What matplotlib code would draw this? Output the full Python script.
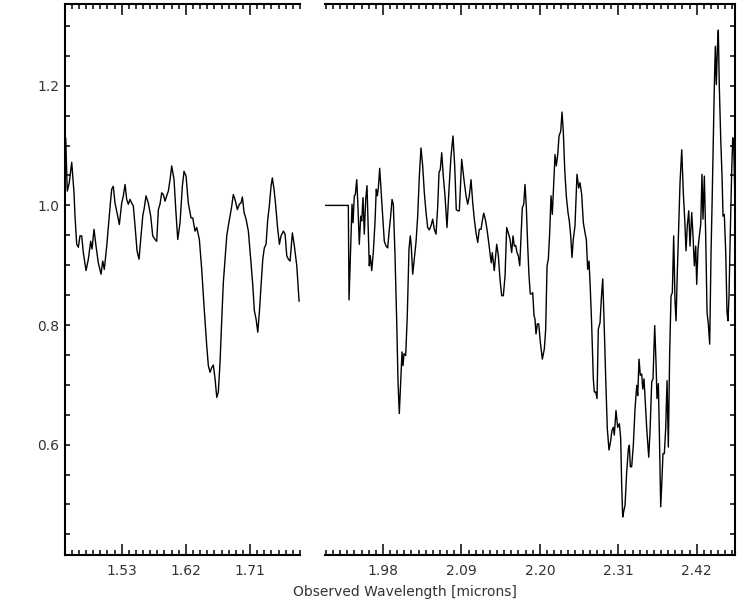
import matplotlib
matplotlib.use("Agg")
import matplotlib.pyplot as plt
from matplotlib.ticker import FixedLocator, MultipleLocator, FormatStrFormatter

# H band part of the spectrum (left panel)
wl_h = [1.4515, 1.4537, 1.4565, 1.4599, 1.4631, 1.4645, 1.4669, 1.4692, 1.4715, 1.4739,
        1.4762, 1.4800, 1.4832, 1.4865, 1.4884, 1.4912, 1.4940, 1.4972, 1.5010, 1.5034,
        1.5056, 1.5090, 1.5122, 1.5146, 1.5160, 1.5182, 1.5206, 1.5239, 1.5267, 1.5300,
        1.5323, 1.5347, 1.5370, 1.5393, 1.5417, 1.5440, 1.5463, 1.5491, 1.5515, 1.5543,
        1.5571, 1.5595, 1.5617, 1.5641, 1.5673, 1.5707, 1.5735, 1.5767, 1.5791, 1.5814,
        1.5837, 1.5861, 1.5884, 1.5908, 1.5931, 1.5954, 1.5978, 1.6001, 1.6034, 1.6058,
        1.6086, 1.6118, 1.6150, 1.6174, 1.6202, 1.6234, 1.6272, 1.6296, 1.6328, 1.6352,
        1.6389, 1.6422, 1.6454, 1.6492, 1.6515, 1.6539, 1.6562, 1.6585, 1.6609, 1.6633,
        1.6655, 1.6679, 1.6703, 1.6725, 1.6749, 1.6773, 1.6795, 1.6819, 1.6843, 1.6865,
        1.6889, 1.6922, 1.6950, 1.6973, 1.6992, 1.7016, 1.7044, 1.7076, 1.7109, 1.7138,
        1.7160, 1.7184, 1.7208, 1.7230, 1.7254, 1.7278, 1.7300, 1.7324, 1.7348, 1.7370,
        1.7394, 1.7412, 1.7436, 1.7460, 1.7483, 1.7511, 1.7534, 1.7567, 1.7591, 1.7614,
        1.7637, 1.7661, 1.7693, 1.7721, 1.7755, 1.7787]
flux_h = [1.112, 1.024, 1.038, 1.072, 1.022, 0.982, 0.935, 0.930, 0.949, 0.949,
          0.921, 0.891, 0.910, 0.940, 0.927, 0.960, 0.932, 0.904, 0.885, 0.907,
          0.893, 0.932, 0.977, 1.010, 1.027, 1.032, 1.004, 0.985, 0.968, 1.004,
          1.016, 1.035, 1.010, 1.002, 1.010, 1.004, 0.999, 0.960, 0.924, 0.910,
          0.949, 0.982, 0.996, 1.016, 1.004, 0.982, 0.949, 0.943, 0.940, 0.993,
          1.002, 1.021, 1.018, 1.007, 1.016, 1.024, 1.043, 1.066, 1.043, 0.993,
          0.943, 0.971, 1.032, 1.057, 1.049, 1.004, 0.979, 0.979, 0.957, 0.963,
          0.943, 0.893, 0.832, 0.766, 0.732, 0.721, 0.729, 0.733, 0.710, 0.679,
          0.688, 0.738, 0.810, 0.871, 0.910, 0.949, 0.966, 0.982, 0.999, 1.018,
          1.010, 0.993, 1.002, 1.004, 1.014, 0.988, 0.977, 0.957, 0.910, 0.866,
          0.824, 0.810, 0.788, 0.821, 0.866, 0.910, 0.929, 0.935, 0.977, 0.999,
          1.032, 1.046, 1.027, 0.999, 0.966, 0.935, 0.949, 0.957, 0.952, 0.916,
          0.910, 0.907, 0.954, 0.932, 0.899, 0.840]

# K band part of the spectrum (right panel)
wl_k = [1.8990, 1.9314, 1.9324, 1.9347, 1.9366, 1.9380, 1.9398, 1.9412, 1.9432, 1.9450,
        1.9468, 1.9488, 1.9502, 1.9520, 1.9538, 1.9558, 1.9576, 1.9594, 1.9608, 1.9622,
        1.9642, 1.9664, 1.9688, 1.9706, 1.9721, 1.9735, 1.9754, 1.9772, 1.9796, 1.9819,
        1.9843, 1.9866, 1.9889, 1.9908, 1.9927, 1.9945, 1.9969, 1.9993, 2.0011, 2.0029,
        2.0049, 2.0067, 2.0081, 2.0095, 2.0119, 2.0141, 2.0165, 2.0183, 2.0197, 2.0217,
        2.0239, 2.0263, 2.0287, 2.0310, 2.0333, 2.0357, 2.0380, 2.0404, 2.0427, 2.0450,
        2.0474, 2.0497, 2.0520, 2.0544, 2.0568, 2.0586, 2.0604, 2.0624, 2.0646, 2.0670,
        2.0698, 2.0726, 2.0754, 2.0782, 2.0806, 2.0828, 2.0848, 2.0871, 2.0904, 2.0936,
        2.0965, 2.0988, 2.1011, 2.1035, 2.1059, 2.1081, 2.1105, 2.1129, 2.1151, 2.1175,
        2.1193, 2.1213, 2.1235, 2.1259, 2.1283, 2.1305, 2.1319, 2.1333, 2.1361, 2.1395,
        2.1418, 2.1441, 2.1465, 2.1488, 2.1512, 2.1535, 2.1558, 2.1582, 2.1605, 2.1624,
        2.1642, 2.1662, 2.1680, 2.1698, 2.1718, 2.1736, 2.1754, 2.1774, 2.1792, 2.1810,
        2.1830, 2.1848, 2.1866, 2.1886, 2.1900, 2.1918, 2.1932, 2.1946, 2.1965, 2.1984,
        2.2007, 2.2035, 2.2063, 2.2082, 2.2101, 2.2119, 2.2138, 2.2157, 2.2175, 2.2195,
        2.2213, 2.2231, 2.2251, 2.2269, 2.2293, 2.2311, 2.2329, 2.2349, 2.2371, 2.2395,
        2.2413, 2.2433, 2.2451, 2.2469, 2.2493, 2.2521, 2.2545, 2.2563, 2.2587, 2.2610,
        2.2634, 2.2652, 2.2671, 2.2690, 2.2708, 2.2727, 2.2750, 2.2764, 2.2784, 2.2802,
        2.2820, 2.2844, 2.2862, 2.2882, 2.2900, 2.2924, 2.2946, 2.2970, 2.2994, 2.3012,
        2.3030, 2.3044, 2.3068, 2.3092, 2.3115, 2.3134, 2.3148, 2.3162, 2.3176, 2.3195,
        2.3218, 2.3241, 2.3255, 2.3269, 2.3288, 2.3311, 2.3335, 2.3359, 2.3373, 2.3391,
        2.3409, 2.3429, 2.3443, 2.3461, 2.3479, 2.3499, 2.3527, 2.3545, 2.3569, 2.3587,
        2.3611, 2.3629, 2.3643, 2.3662, 2.3676, 2.3695, 2.3713, 2.3727, 2.3746, 2.3765,
        2.3784, 2.3802, 2.3821, 2.3840, 2.3858, 2.3877, 2.3896, 2.3910, 2.3928, 2.3948,
        2.3966, 2.3990, 2.4012, 2.4032, 2.4050, 2.4068, 2.4088, 2.4106, 2.4130, 2.4148,
        2.4167, 2.4186, 2.4200, 2.4218, 2.4237, 2.4256, 2.4274, 2.4288, 2.4307, 2.4326,
        2.4345, 2.4363, 2.4382, 2.4401, 2.4415, 2.4433, 2.4447, 2.4461, 2.4475, 2.4489,
        2.4503, 2.4517, 2.4537, 2.4555, 2.4569, 2.4587, 2.4607, 2.4625, 2.4639, 2.4653,
        2.4671, 2.4691, 2.4705, 2.4719, 2.4733, 2.4747]
flux_k = [1.000, 1.000, 0.842, 0.927, 1.002, 0.971, 1.016, 1.018, 1.043, 0.996,
          0.935, 0.982, 0.974, 1.013, 0.952, 1.010, 1.033, 0.960, 0.899, 0.916,
          0.891, 0.921, 0.971, 1.027, 1.016, 1.029, 1.062, 1.027, 0.982, 0.940,
          0.932, 0.929, 0.960, 0.982, 1.010, 1.002, 0.916, 0.804, 0.705, 0.652,
          0.705, 0.755, 0.732, 0.752, 0.749, 0.816, 0.927, 0.949, 0.932, 0.885,
          0.910, 0.938, 0.982, 1.049, 1.096, 1.066, 1.021, 0.988, 0.963, 0.959,
          0.966, 0.977, 0.960, 0.952, 0.999, 1.055, 1.060, 1.088, 1.049, 1.016,
          0.963, 1.027, 1.082, 1.116, 1.066, 0.993, 0.991, 0.991, 1.077, 1.043,
          1.016, 1.002, 1.016, 1.043, 1.004, 0.977, 0.954, 0.938, 0.960, 0.960,
          0.974, 0.987, 0.977, 0.960, 0.938, 0.916, 0.904, 0.921, 0.891, 0.935,
          0.916, 0.877, 0.849, 0.849, 0.882, 0.963, 0.954, 0.943, 0.921, 0.949,
          0.932, 0.933, 0.921, 0.916, 0.899, 0.949, 0.996, 1.002, 1.035, 0.999,
          0.932, 0.882, 0.852, 0.852, 0.854, 0.816, 0.810, 0.785, 0.802, 0.802,
          0.771, 0.743, 0.760, 0.793, 0.899, 0.910, 0.954, 1.016, 0.985, 1.038,
          1.085, 1.066, 1.085, 1.116, 1.124, 1.156, 1.124, 1.060, 1.016, 0.988,
          0.974, 0.949, 0.913, 0.943, 0.966, 1.052, 1.029, 1.038, 1.018, 0.971,
          0.954, 0.943, 0.893, 0.907, 0.860, 0.800, 0.710, 0.688, 0.688, 0.677,
          0.793, 0.804, 0.843, 0.877, 0.810, 0.710, 0.627, 0.591, 0.607, 0.624,
          0.629, 0.616, 0.657, 0.629, 0.635, 0.610, 0.532, 0.479, 0.488, 0.499,
          0.554, 0.593, 0.599, 0.563, 0.563, 0.599, 0.660, 0.699, 0.682, 0.743,
          0.716, 0.718, 0.693, 0.710, 0.671, 0.627, 0.579, 0.621, 0.705, 0.710,
          0.799, 0.738, 0.677, 0.702, 0.621, 0.496, 0.543, 0.585, 0.585, 0.627,
          0.707, 0.596, 0.755, 0.849, 0.854, 0.949, 0.838, 0.807, 0.888, 0.966,
          1.038, 1.093, 1.021, 0.977, 0.924, 0.966, 0.991, 0.932, 0.988, 0.949,
          0.899, 0.932, 0.868, 0.927, 0.949, 0.968, 1.052, 0.977, 1.049, 0.949,
          0.821, 0.802, 0.768, 0.921, 0.999, 1.116, 1.199, 1.266, 1.202, 1.260,
          1.293, 1.199, 1.110, 1.049, 0.982, 0.985, 0.921, 0.821, 0.807, 0.849,
          0.954, 1.060, 1.113, 1.099, 1.027, 1.010]

h_ticks = [1.53, 1.62, 1.71]
k_ticks = [1.98, 2.09, 2.20, 2.31, 2.42]
y_ticks = [0.6, 0.8, 1.0, 1.2]

fig = plt.figure(figsize=(7.5, 6.03), dpi=100)
ax1 = fig.add_axes([65 / 750, 1 - 555 / 603, 235 / 750, 551 / 603])
ax2 = fig.add_axes([325 / 750, 1 - 555 / 603, 410 / 750, 551 / 603])

ax1.plot(wl_h, flux_h, color="black", lw=1.0)
ax2.plot(wl_k, flux_k, color="black", lw=1.0)

ax1.set_xlim(1.4505, 1.780)
ax2.set_xlim(1.8987, 2.4737)

for ax, ticks in ((ax1, h_ticks), (ax2, k_ticks)):
    ax.set_ylim(0.4155, 1.3367)
    ax.xaxis.set_major_locator(FixedLocator(ticks))
    ax.xaxis.set_minor_locator(MultipleLocator(0.01))
    ax.xaxis.set_major_formatter(FormatStrFormatter("%.2f"))
    ax.yaxis.set_major_locator(FixedLocator(y_ticks))
    ax.yaxis.set_minor_locator(MultipleLocator(0.05))
    ax.yaxis.set_major_formatter(FormatStrFormatter("%.1f"))
    ax.tick_params(axis="x", which="both", direction="in", top=True, bottom=True,
                   width=1.1, colors="black", labelcolor="#333333", labelsize=10, pad=6.5)
    ax.tick_params(axis="x", which="major", length=8)
    ax.tick_params(axis="x", which="minor", length=3.6)
    ax.tick_params(axis="y", which="both", direction="in", length=3.6, width=1.1,
                   labelcolor="#333333", labelsize=10, pad=4)
    for sp in ax.spines.values():
        sp.set_linewidth(1.5)

ax1.spines["right"].set_visible(False)
ax1.tick_params(axis="y", which="both", left=True, right=False)
ax2.spines["left"].set_visible(False)
ax2.tick_params(axis="y", which="both", left=False, right=True, labelleft=False)

fig.text(405 / 750, 1 - 592 / 603, "Observed Wavelength [microns]", ha="center", va="center",
         fontsize=10, color="#333333")

fig.savefig("out.png", dpi=100)
